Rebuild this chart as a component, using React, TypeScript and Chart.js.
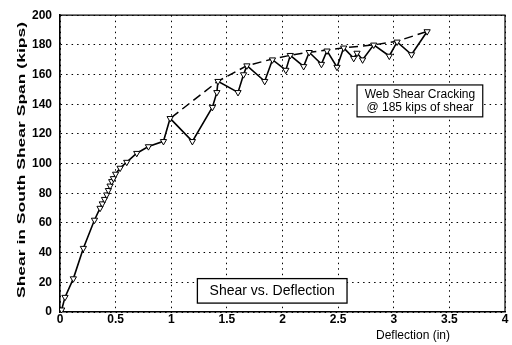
import React, { useEffect, useRef } from "react";
import { Chart, registerables } from "chart.js";

Chart.register(...registerables);

const deflection = [
  0, 0.015, 0.045, 0.12, 0.21, 0.31, 0.36, 0.38, 0.4, 0.42, 0.435, 0.45, 0.465, 0.48, 0.5, 0.54, 0.6, 0.69, 0.795, 0.93,
  0.99, 1.19, 1.37, 1.41, 1.42, 1.6, 1.65, 1.68, 1.84, 1.91, 2.03, 2.07, 2.19, 2.24, 2.35, 2.4, 2.49, 2.55, 2.64, 2.67,
  2.72, 2.82, 2.96, 3.03, 3.16, 3.3,
];
const shear = [
  0, 1.5, 10, 22.5, 43, 62, 70, 73, 76, 79, 82, 85, 88, 90, 93, 97, 101, 107, 111.5, 115,
  130.5, 115, 138, 148, 155.5, 148, 160, 166, 155.5, 170, 163, 173, 165.5, 175, 167, 176, 165, 178, 171, 174.5,
  170, 180, 172.5, 182, 173.5, 189,
];
const envelopeDeflection = [1.0, 1.42, 1.68, 1.91, 2.07, 2.24, 2.4, 2.55, 2.82, 3.03, 3.3];
const envelopeShear = [131, 155.5, 166, 170.5, 173, 175, 176.5, 178, 180, 182.5, 189];

const xTicks = [0, 0.5, 1, 1.5, 2, 2.5, 3, 3.5, 4];
const yTicks = [0, 20, 40, 60, 80, 100, 120, 140, 160, 180, 200];

const xTitle = "Deflection (in)";
const yTitle = "Shear in South Shear Span (kips)";
const noteLines = ["Web Shear Cracking", "@ 185 kips of shear"];
const boxLabel = "Shear vs. Deflection";

const FONT = "'Liberation Sans', Arial, Helvetica, sans-serif";

export default function App() {
  const ref = useRef<HTMLCanvasElement | null>(null);

  useEffect(() => {
    const canvas = ref.current;
    if (!canvas) return;

    const annotations = {
      id: "annotations",
      beforeDatasetsDraw(chart: any) {
        const { ctx, chartArea } = chart;
        ctx.save();
        ctx.strokeStyle = "#000";
        ctx.lineWidth = 1.2;
        ctx.beginPath();
        ctx.moveTo(chartArea.left, chartArea.top);
        ctx.lineTo(chartArea.right, chartArea.top);
        ctx.lineTo(chartArea.right, chartArea.bottom);
        ctx.stroke();
        ctx.restore();
      },
      afterDraw(chart: any) {
        const { ctx } = chart;
        const xs = chart.scales.x;
        const ys = chart.scales.y;
        ctx.save();
        ctx.fillStyle = "#000";
        ctx.strokeStyle = "#000";

        // y title (stretched along its length)
        ctx.save();
        ctx.font = `bold 11px ${FONT}`;
        const w = ctx.measureText(yTitle).width;
        ctx.translate(22, 160);
        ctx.rotate(-Math.PI / 2);
        ctx.scale(276 / w, 1);
        ctx.textAlign = "center";
        ctx.textBaseline = "middle";
        ctx.fillText(yTitle, 0, 0);
        ctx.restore();

        // x title
        ctx.font = `12px ${FONT}`;
        ctx.textAlign = "center";
        ctx.textBaseline = "middle";
        ctx.fillText(xTitle, 413, 336);

        // note box
        const nx1 = xs.getPixelForValue(2.67);
        const nx2 = xs.getPixelForValue(3.8);
        const ny1 = ys.getPixelForValue(153);
        const ny2 = ys.getPixelForValue(131.5);
        ctx.fillStyle = "#fff";
        ctx.fillRect(nx1, ny1, nx2 - nx1, ny2 - ny1);
        ctx.lineWidth = 1.2;
        ctx.strokeRect(nx1, ny1, nx2 - nx1, ny2 - ny1);
        ctx.fillStyle = "#000";
        ctx.font = `12px ${FONT}`;
        const ncx = (nx1 + nx2) / 2;
        ctx.fillText(noteLines[0], ncx, ny1 + 9.5);
        ctx.fillText(noteLines[1], ncx, ny1 + 23);

        // label box
        const bx1 = xs.getPixelForValue(1.235);
        const bx2 = xs.getPixelForValue(2.58);
        const by1 = ys.getPixelForValue(22.5);
        const by2 = ys.getPixelForValue(6);
        ctx.fillStyle = "#fff";
        ctx.fillRect(bx1, by1, bx2 - bx1, by2 - by1);
        ctx.lineWidth = 1.3;
        ctx.strokeRect(bx1, by1, bx2 - bx1, by2 - by1);
        ctx.fillStyle = "#000";
        ctx.font = `14px ${FONT}`;
        ctx.fillText(boxLabel, (bx1 + bx2) / 2, (by1 + by2) / 2 + 0.5);

        ctx.restore();
      },
    };

    const chart = new Chart(canvas, {
      type: "scatter",
      data: {
        datasets: [
          {
            data: deflection.map((x, i) => ({ x, y: shear[i] })),
            showLine: true,
            borderColor: "#000",
            borderWidth: 1.6,
            pointStyle: "triangle",
            rotation: 180,
            pointRadius: 3.6,
            pointBackgroundColor: "#fff",
            pointBorderColor: "#000",
            pointBorderWidth: 1,
          },
          {
            data: envelopeDeflection.map((x, i) => ({ x, y: envelopeShear[i] })),
            showLine: true,
            borderColor: "#000",
            borderWidth: 1.5,
            borderDash: [9, 5],
            pointRadius: 0,
          },
        ],
      },
      options: {
        responsive: false,
        animation: false,
        events: [],
        layout: { padding: { top: 13, right: 7, left: 0, bottom: 0 } },
        plugins: { legend: { display: false }, tooltip: { enabled: false } },
        scales: {
          x: {
            type: "linear",
            min: 0,
            max: 4,
            afterBuildTicks: (s: any) => {
              s.ticks = xTicks.map((v) => ({ value: v }));
            },
            afterFit: (s: any) => {
              s.height = 33;
            },
            grid: { color: "#000", lineWidth: 1, drawTicks: false },
            border: { display: true, color: "#000", width: 1.6, dash: [1.5, 4] },
            ticks: {
              color: "#000",
              padding: 0,
              maxRotation: 0,
              font: { family: FONT, size: 12, weight: "bold" },
              callback: (v: any) => String(v),
            },
          },
          y: {
            type: "linear",
            min: 0,
            max: 200,
            afterBuildTicks: (s: any) => {
              s.ticks = yTicks.map((v) => ({ value: v }));
            },
            afterFit: (s: any) => {
              s.width = 60;
            },
            grid: { color: "#000", lineWidth: 1, drawTicks: false },
            border: { display: true, color: "#000", width: 1.6, dash: [1.5, 4] },
            ticks: {
              color: "#000",
              padding: 8,
              font: { family: FONT, size: 12, weight: "bold" },
              callback: (v: any) => String(v),
            },
          },
        },
      },
      plugins: [annotations],
    } as any);

    return () => chart.destroy();
  }, []);

  return (
    <div style={{ position: "fixed", left: 0, top: 0, width: 512, height: 345, background: "#fff" }}>
      <canvas ref={ref} width={512} height={345} style={{ display: "block" }} />
    </div>
  );
}
